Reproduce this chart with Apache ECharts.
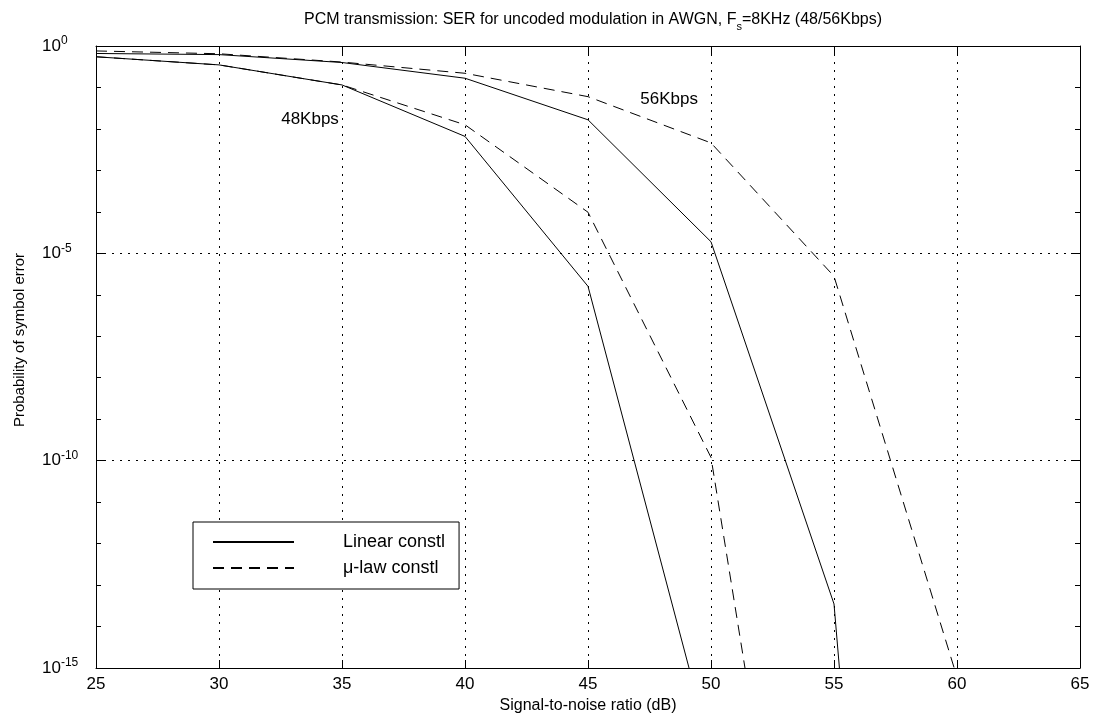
<!DOCTYPE html>
<html><head><meta charset="utf-8">
<script src="https://cdn.jsdelivr.net/npm/echarts@6/dist/echarts.min.js"></script>
<style>html,body{margin:0;padding:0;background:#fff}#c{width:1096px;height:719px}</style>
</head><body><div id="c"></div>
<script>
// ---- data ----
const snr = [25, 30, 35, 40, 45, 50, 55, 60];
const linear48 = [0.55, 0.35, 0.115, 6.6e-3, 1.6e-6, 1e-17];
const mulaw48  = [0.55, 0.35, 0.115, 1.26e-2, 9.8e-5, 1.2e-10, 5e-29];
const linear56 = [0.66, 0.62, 0.40, 0.167, 1.66e-2, 1.9e-5, 3.5e-14, 3e-49];
const mulaw56  = [0.76, 0.65, 0.41, 0.22, 6e-2, 4.6e-3, 2.8e-6, 6e-16];
const legendNames = ['Linear constl', 'μ-law constl'];
const annText = ['48Kbps', '56Kbps'];
const annX = [33.7, 48.3];
const annY = [1.7e-2, 5.2e-2];

const F = 'Liberation Sans, Arial, sans-serif';
const pairs = arr => arr.map((v, i) => [snr[i], v]);
const chart = echarts.init(document.getElementById('c'), null, {renderer: 'canvas'});

const dotted = {color: '#000', width: 1, type: [2, 6]};
const yLabelFmt = v => '{b|10}{s|' + Math.round(Math.log10(v)) + '}';

const lineSeries = (name, arr, dashed) => ({
  type: 'line', name, data: pairs(arr), symbol: 'none', clip: true, silent: true,
  lineStyle: {color: '#000', width: 1, type: dashed ? [11, 7] : 'solid'},
  itemStyle: {color: '#000'}
});

chart.setOption({
  animation: false,
  backgroundColor: '#fff',
  title: {
    text: '{a|PCM transmission: SER for uncoded modulation in AWGN, F}{s|s}{a|=8KHz (48/56Kbps)}',
    left: 588, top: 3, textAlign: 'center',
    textStyle: {fontWeight: 'normal', rich: {
      a: {fontFamily: F, fontSize: 16, fontWeight: 'normal', color: '#000', lineHeight: 24},
      s: {fontFamily: F, fontSize: 11, fontWeight: 'normal', color: '#000', lineHeight: 11, verticalAlign: 'bottom'}
    }}
  },
  grid: {left: 96, right: 16, top: 46, bottom: 50, containLabel: false},
  legend: {
    data: legendNames, orient: 'vertical', left: 193, top: 522,
    itemWidth: 81, itemHeight: 14, itemGap: 8,
    padding: [11, 14, 12, 19],
    borderColor: '#000', borderWidth: 1, backgroundColor: '#fff',
    itemStyle: {color: 'rgba(0,0,0,0)', borderWidth: 0, opacity: 0},
    formatter: n => '{t|' + n + '}',
    textStyle: {rich: {t: {fontFamily: F, fontSize: 18, color: '#000', padding: [0, 0, 0, 44]}}},
    selectedMode: false
  },
  xAxis: [{
    type: 'value', min: 25, max: 65, interval: 5, position: 'bottom',
    name: 'Signal-to-noise ratio (dB)', nameLocation: 'middle', nameGap: 30,
    nameTextStyle: {fontFamily: F, fontSize: 16, color: '#000'},
    axisLine: {show: true, lineStyle: {color: '#000', width: 1}},
    axisTick: {show: true, inside: true, length: 8, lineStyle: {color: '#000'}},
    axisLabel: {fontFamily: F, fontSize: 17, color: '#000', margin: 8},
    splitLine: {show: true, lineStyle: dotted}
  }, {
    type: 'value', min: 25, max: 65, interval: 5, position: 'top',
    axisLine: {show: true, lineStyle: {color: '#000', width: 1}},
    axisTick: {show: true, inside: true, length: 8, lineStyle: {color: '#000'}},
    axisLabel: {show: false}, splitLine: {show: false}
  }],
  yAxis: [{
    type: 'log', logBase: 10, min: 1e-15, max: 1, interval: 5, position: 'left',
    axisLine: {show: true, lineStyle: {color: '#000', width: 1}},
    axisTick: {show: true, inside: true, length: 9, lineStyle: {color: '#000'}},
    axisLabel: {formatter: yLabelFmt, align: 'left', margin: 54,
      rich: {
        b: {fontFamily: F, fontSize: 17, color: '#000', lineHeight: 22},
        s: {fontFamily: F, fontSize: 12, color: '#000', lineHeight: 12, verticalAlign: 'top'}
      }},
    splitLine: {show: true, lineStyle: dotted}
  }, {
    type: 'log', logBase: 10, min: 1e-15, max: 1, interval: 1, position: 'left',
    axisLine: {show: false},
    axisTick: {show: true, inside: true, length: 5, lineStyle: {color: '#000'}},
    axisLabel: {show: false}, splitLine: {show: false}
  }, {
    type: 'log', logBase: 10, min: 1e-15, max: 1, interval: 5, position: 'right',
    axisLine: {show: true, lineStyle: {color: '#000', width: 1}},
    axisTick: {show: true, inside: true, length: 9, lineStyle: {color: '#000'}},
    axisLabel: {show: false}, splitLine: {show: false}
  }, {
    type: 'log', logBase: 10, min: 1e-15, max: 1, interval: 1, position: 'right',
    axisLine: {show: false},
    axisTick: {show: true, inside: true, length: 5, lineStyle: {color: '#000'}},
    axisLabel: {show: false}, splitLine: {show: false}
  }],
  graphic: [{
    type: 'text', x: 20, y: 340, rotation: Math.PI / 2,
    style: {text: 'Probability of symbol error', fontFamily: F, fontSize: 15, fill: '#000',
      align: 'center', verticalAlign: 'middle'}
  }],
  series: [
    lineSeries(legendNames[0], linear48, false),
    lineSeries(legendNames[1], mulaw48, true),
    lineSeries(legendNames[0], linear56, false),
    lineSeries(legendNames[1], mulaw56, true),
    {
      type: 'scatter', name: 'annotations', symbolSize: 0, silent: true,
      itemStyle: {opacity: 1, color: '#000'},
      data: annText.map((t, i) => ({name: t, value: [annX[i], annY[i]]})),
      label: {show: true, position: 'inside', formatter: p => p.name,
        fontFamily: F, fontSize: 17, color: '#000', opacity: 1}
    }
  ]
});
</script></body></html>
